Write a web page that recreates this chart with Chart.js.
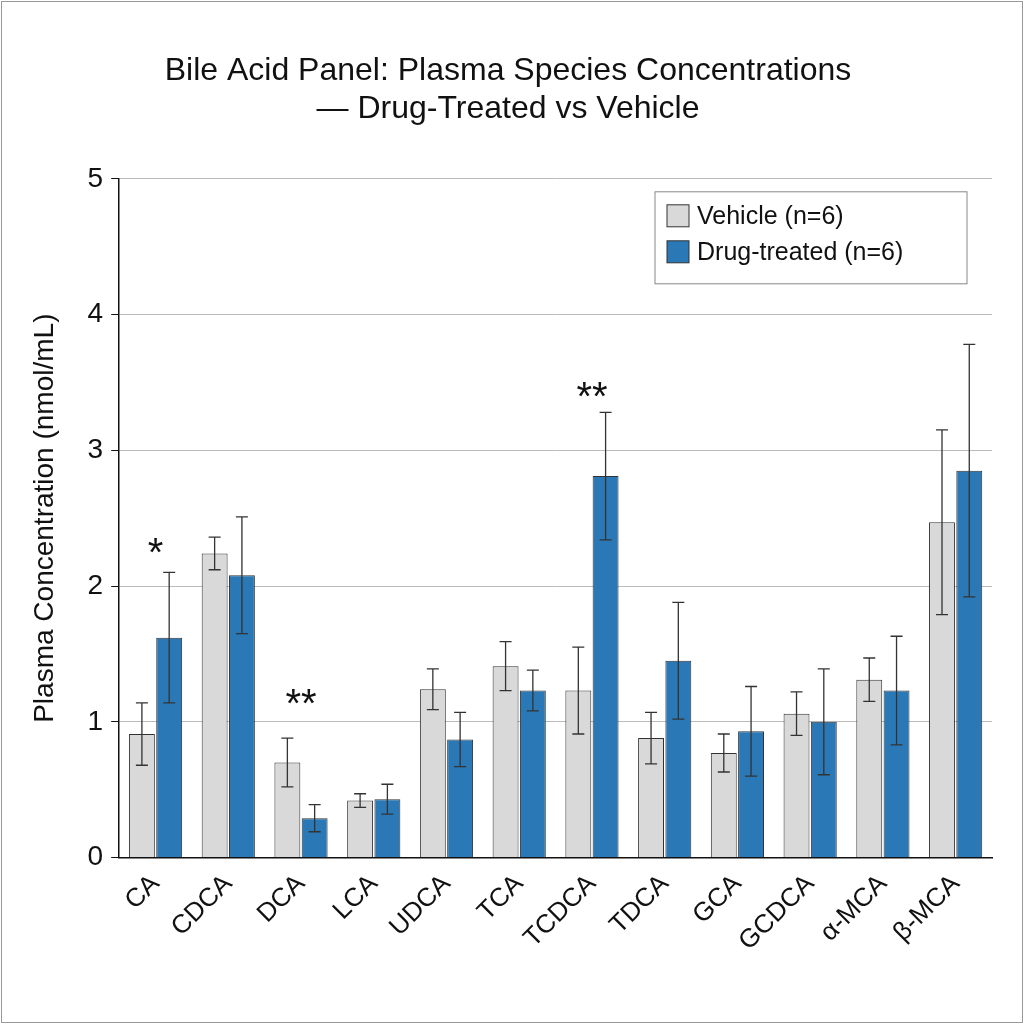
<!DOCTYPE html>
<html>
<head>
<meta charset="utf-8">
<script src="https://cdn.jsdelivr.net/npm/chart.js@4"></script>
<style>
  body { margin: 0; background: #fff; }
  #wrap { position: absolute; left: 1px; top: 1px; width: 1020px; height: 1020px; border: 1px solid #999; }
</style>
</head>
<body>
<div id="wrap"><canvas id="chart" width="1020" height="1020"></canvas></div>
<script>
const categories = ['CA', 'CDCA', 'DCA', 'LCA', 'UDCA', 'TCA', 'TCDCA', 'TDCA', 'GCA', 'GCDCA', 'α-MCA', 'β-MCA'];
const vehicleMean = [0.91, 2.24, 0.70, 0.42, 1.24, 1.41, 1.23, 0.88, 0.77, 1.06, 1.31, 2.47];
const vehicleErr  = [0.23, 0.12, 0.18, 0.05, 0.15, 0.18, 0.32, 0.19, 0.14, 0.16, 0.16, 0.68];
const drugMean    = [1.62, 2.08, 0.29, 0.43, 0.87, 1.23, 2.81, 1.45, 0.93, 1.00, 1.23, 2.85];
const drugErr     = [0.48, 0.43, 0.10, 0.11, 0.20, 0.15, 0.47, 0.43, 0.33, 0.39, 0.40, 0.93];
const sigMarks = [
    { index: 0, y: 2.30, text: '*' },
    { index: 2, y: 1.19, text: '**' },
    { index: 6, y: 3.45, text: '**' }
];
const seriesLabels = ['Vehicle (n=6)', 'Drug-treated (n=6)'];
const vehicleColor = '#d9d9d9';
const drugColor = '#2a78b5';
const errors = [vehicleErr, drugErr];
const FONT = '"Liberation Sans", Arial, sans-serif';

const errorBarPlugin = {
    id: 'errorBars',
    afterDatasetsDraw(chart) {
        const ctx = chart.ctx;
        const y = chart.scales.y;
        ctx.save();
        ctx.strokeStyle = '#333';
        ctx.lineWidth = 1.3;
        chart.data.datasets.forEach((ds, di) => {
            chart.getDatasetMeta(di).data.forEach((bar, i) => {
                const top = y.getPixelForValue(ds.data[i] + errors[di][i]);
                const bot = y.getPixelForValue(ds.data[i] - errors[di][i]);
                ctx.beginPath();
                ctx.moveTo(bar.x, top); ctx.lineTo(bar.x, bot);
                ctx.moveTo(bar.x - 6, top); ctx.lineTo(bar.x + 6, top);
                ctx.moveTo(bar.x - 6, bot); ctx.lineTo(bar.x + 6, bot);
                ctx.stroke();
            });
        });
        // significance marks
        ctx.fillStyle = '#111';
        ctx.font = '40px ' + FONT;
        ctx.textAlign = 'center';
        ctx.textBaseline = 'middle';
        sigMarks.forEach(m => {
            ctx.fillText(m.text, chart.scales.x.getPixelForValue(m.index), y.getPixelForValue(m.y) + 10);
        });
        // legend box
        const a = chart.chartArea;
        const lx = a.right - 337, ly = a.top + 13, lw = 312, lh = 92;
        ctx.fillStyle = '#fff';
        ctx.fillRect(lx, ly, lw, lh);
        ctx.strokeStyle = '#888';
        ctx.lineWidth = 1;
        ctx.strokeRect(lx, ly, lw, lh);
        ctx.font = '25px ' + FONT;
        ctx.textAlign = 'left';
        [vehicleColor, drugColor].forEach((c, k) => {
            const ry = ly + 13 + k * 36;
            ctx.fillStyle = c;
            ctx.fillRect(lx + 12, ry, 22, 22);
            ctx.strokeStyle = '#333';
            ctx.strokeRect(lx + 12, ry, 22, 22);
            ctx.fillStyle = '#111';
            ctx.fillText(seriesLabels[k], lx + 42, ry + 12);
        });
        ctx.restore();
    }
};

new Chart(document.getElementById('chart'), {
    type: 'bar',
    data: {
        labels: categories,
        datasets: [
            { label: seriesLabels[0], data: vehicleMean, backgroundColor: vehicleColor, borderColor: '#333', borderWidth: 1 },
            { label: seriesLabels[1], data: drugMean, backgroundColor: drugColor, borderColor: '#333', borderWidth: 1 }
        ]
    },
    options: {
        responsive: false,
        animation: false,
        categoryPercentage: 0.75,
        barPercentage: 0.95,
        layout: { padding: { left: 22, right: 30, top: 50, bottom: 62 } },
        plugins: {
            legend: { display: false },
            tooltip: { enabled: false },
            title: {
                display: true,
                text: ['Bile Acid Panel: Plasma Species Concentrations', '— Drug-Treated vs Vehicle'],
                color: '#111',
                font: { size: 32, family: FONT, weight: 'normal' },
                padding: { bottom: 50 }
            }
        },
        scales: {
            x: {
                grid: { display: false },
                border: { color: '#111', width: 1.5 },
                ticks: {
                    color: '#111', maxRotation: 45, minRotation: 45,
                    font: { size: 26, family: FONT }
                }
            },
            y: {
                min: 0, max: 5,
                border: { color: '#111', width: 1.5 },
                grid: { color: '#bbb', drawTicks: true, tickLength: 8, tickColor: '#111' },
                ticks: { stepSize: 1, color: '#111', padding: 8, font: { size: 28, family: FONT } },
                title: {
                    display: true, text: 'Plasma Concentration (nmol/mL)', color: '#111',
                    font: { size: 28, family: FONT }, padding: { bottom: 18 }
                }
            }
        }
    },
    plugins: [errorBarPlugin]
});
</script>
</body>
</html>
